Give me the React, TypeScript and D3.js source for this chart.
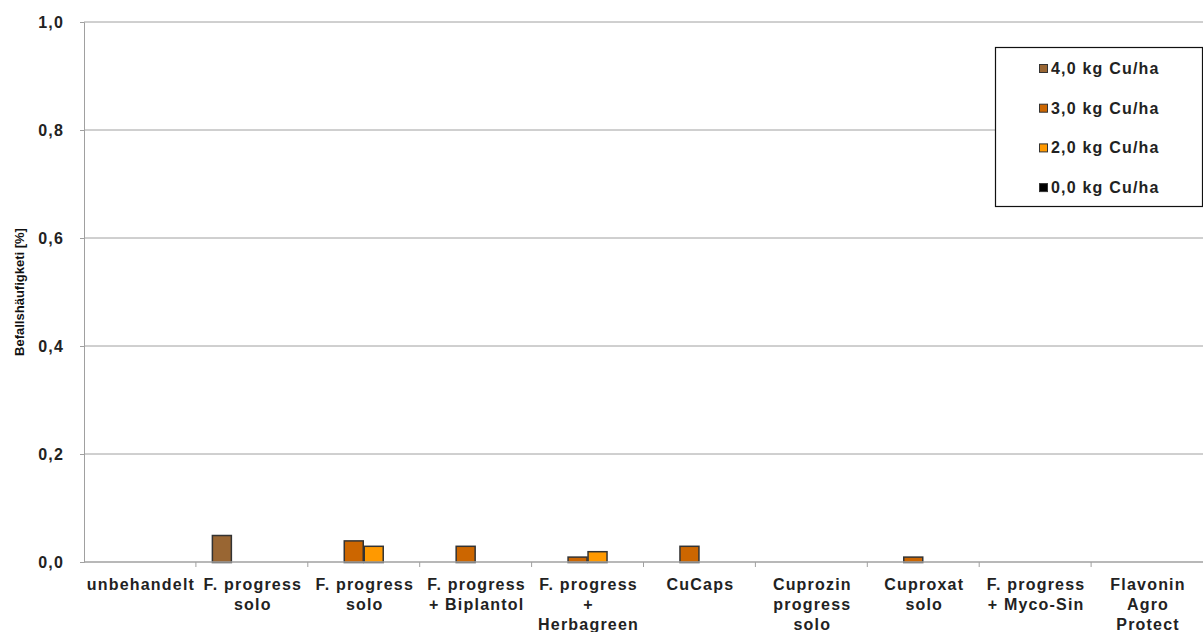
import * as d3 from "d3";
import { useEffect, useRef } from "react";

const categories = [
  ["unbehandelt"],
  ["F. progress", "solo"],
  ["F. progress", "solo"],
  ["F. progress", "+ Biplantol"],
  ["F. progress", "+", "Herbagreen"],
  ["CuCaps"],
  ["Cuprozin", "progress", "solo"],
  ["Cuproxat", "solo"],
  ["F. progress", "+ Myco-Sin"],
  ["Flavonin", "Agro", "Protect"],
];

const seriesNames = ["4,0 kg Cu/ha", "3,0 kg Cu/ha", "2,0 kg Cu/ha", "0,0 kg Cu/ha"];
const seriesColors = ["#996633", "#CC6600", "#FF9900", "#000000"];

// values per series, one per category (null = no bar)
const cu40 = [null, 0.05, null, null, null, null, null, null, null, null];
const cu30 = [null, null, 0.04, 0.03, 0.01, 0.03, null, 0.01, null, null];
const cu20 = [null, null, 0.03, null, 0.02, null, null, null, null, null];
const cu00 = [null, null, null, null, null, null, null, null, null, null];

const yTicks = [0, 0.2, 0.4, 0.6, 0.8, 1.0];

const App = () => {
  const ref = useRef(null);

  useEffect(() => {
    document.body.style.margin = "0";
    document.body.style.overflow = "hidden";

    const width = 1203;
    const height = 632;
    const margin = { top: 22, right: 0, bottom: 70, left: 84 };
    const font = "Liberation Sans, Arial, sans-serif";

    d3.select(ref.current).select("svg").remove();

    const svg = d3
      .select(ref.current)
      .append("svg")
      .attr("width", width)
      .attr("height", height)
      .style("display", "block")
      .style("background", "#fff");

    const series = [cu40, cu30, cu20, cu00];
    const idx = categories.map((_, i) => i);

    const x = d3.scaleBand<number>()
      .domain(idx)
      .range([margin.left, width - margin.right])
      .paddingInner(0)
      .paddingOuter(0);

    const xInner = d3.scaleBand<number>()
      .domain(d3.range(series.length))
      .range([0, x.bandwidth()])
      .paddingOuter(0.8)
      .paddingInner(0);

    const y = d3.scaleLinear()
      .domain([0, 1])
      .range([height - margin.bottom, margin.top]);

    // gridlines
    svg.append("g")
      .selectAll("line")
      .data(yTicks.slice(1))
      .enter()
      .append("line")
      .attr("x1", margin.left)
      .attr("x2", width)
      .attr("y1", (d) => y(d))
      .attr("y2", (d) => y(d))
      .attr("stroke", "#a0a0a0")
      .attr("stroke-width", 1);

    // y axis
    const yAxis = d3.axisLeft(y)
      .tickValues(yTicks)
      .tickSize(4)
      .tickPadding(16)
      .tickFormat((d) => d3.format(".1f")(d as number).replace(".", ","));

    const yg = svg.append("g")
      .attr("transform", "translate(" + margin.left + ",0)")
      .call(yAxis);
    yg.selectAll("line, path").attr("stroke", "#a0a0a0");
    yg.selectAll("text")
      .attr("font-family", font)
      .attr("font-size", "16px")
      .attr("font-weight", "bold")
      .attr("letter-spacing", "1.2px")
      .attr("fill", "#222");

    // bars
    series.forEach((vals, s) => {
      svg.append("g")
        .selectAll("rect")
        .data(idx.filter((i) => vals[i] != null))
        .enter()
        .append("rect")
        .attr("x", (i) => (x(i) as number) + (xInner(s) as number) + 0.5)
        .attr("y", (i) => y(vals[i] as number) + 0.5)
        .attr("width", xInner.bandwidth() - 1)
        .attr("height", (i) => y(0) - y(vals[i] as number))
        .attr("fill", seriesColors[s])
        .attr("stroke", "#333")
        .attr("stroke-width", 1.5);
    });

    // x axis
    const baseY = y(0);
    const xg = svg.append("g");
    xg.append("line")
      .attr("x1", margin.left)
      .attr("x2", width)
      .attr("y1", baseY)
      .attr("y2", baseY)
      .attr("stroke", "#a0a0a0")
      .attr("stroke-width", 1.5);
    xg.selectAll("line.tick")
      .data(idx.slice(1))
      .enter()
      .append("line")
      .attr("class", "tick")
      .attr("x1", (i) => x(i) as number)
      .attr("x2", (i) => x(i) as number)
      .attr("y1", baseY)
      .attr("y2", baseY + 5)
      .attr("stroke", "#a0a0a0");

    const labels = xg.selectAll("text.cat")
      .data(idx)
      .enter()
      .append("text")
      .attr("class", "cat")
      .attr("y", baseY + 28)
      .attr("text-anchor", "middle")
      .attr("font-family", font)
      .attr("font-size", "16px")
      .attr("font-weight", "bold")
      .attr("letter-spacing", "1.2px")
      .attr("fill", "#222");
    labels.each(function (i) {
      const t = d3.select(this);
      categories[i].forEach((line, k) => {
        t.append("tspan")
          .attr("x", (x(i) as number) + x.bandwidth() / 2 + 1)
          .attr("dy", k === 0 ? 0 : 20)
          .text(line);
      });
    });

    // y title
    svg.append("text")
      .attr("transform", "translate(24," + (margin.top + (height - margin.bottom - margin.top) / 2) + ") rotate(-90)")
      .attr("text-anchor", "middle")
      .attr("font-family", font)
      .attr("font-size", "13px")
      .attr("font-weight", "bold")
      .attr("fill", "#111")
      .text("Befallshäufigketi [%]");

    // legend
    const lg = svg.append("g").attr("transform", "translate(995,47)");
    lg.append("rect")
      .attr("x", 0.5)
      .attr("y", 0.5)
      .attr("width", 207)
      .attr("height", 159)
      .attr("fill", "#fff")
      .attr("stroke", "#111")
      .attr("stroke-width", 1.2);
    seriesNames.forEach((name, s) => {
      const row = lg.append("g").attr("transform", "translate(0," + (21 + s * 39.7) + ")");
      row.append("rect")
        .attr("x", 44.5)
        .attr("y", -3.5)
        .attr("width", 8)
        .attr("height", 8)
        .attr("fill", seriesColors[s])
        .attr("stroke", "#333")
        .attr("stroke-width", 1);
      row.append("text")
        .attr("x", 56)
        .attr("y", 6)
        .attr("font-family", font)
        .attr("font-size", "16px")
        .attr("font-weight", "bold")
        .attr("letter-spacing", "1.2px")
        .attr("fill", "#222")
        .text(name);
    });
  }, []);

  return <div ref={ref}></div>;
};

export default App;
